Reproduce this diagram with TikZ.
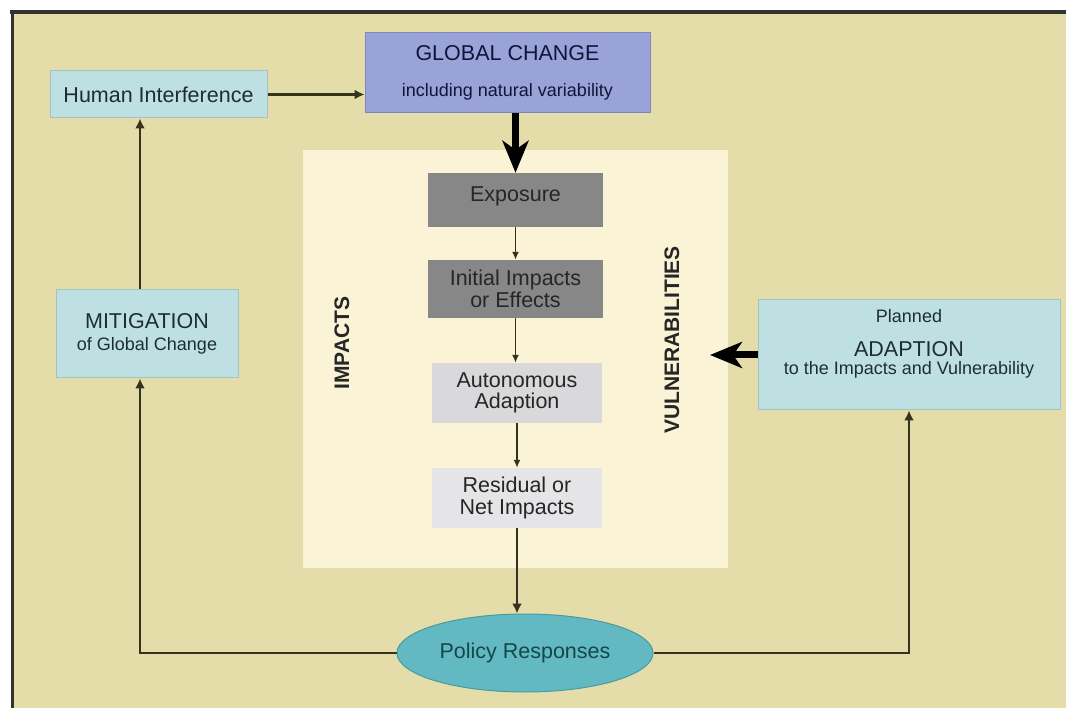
\documentclass[tikz,border=0pt]{standalone}
\usepackage{fontspec}
\setmainfont{Liberation Sans}
\usetikzlibrary{arrows.meta,shapes.geometric}
\definecolor{bgk}{HTML}{E4DDAA}
\definecolor{panel}{HTML}{FAF3D6}
\definecolor{cyanbox}{HTML}{BEE0E2}
\definecolor{cyanedge}{HTML}{A3C4C6}
\definecolor{gcbox}{HTML}{9AA3D8}
\definecolor{gcedge}{HTML}{7D86BC}
\definecolor{darkgray}{HTML}{878787}
\definecolor{lightgray1}{HTML}{D9D9DB}
\definecolor{lightgray2}{HTML}{E5E5E8}
\definecolor{pol}{HTML}{62B9C2}
\definecolor{poledge}{HTML}{4A9AA3}
\definecolor{linec}{HTML}{35331F}
\definecolor{txt}{HTML}{1E2D35}
\newcommand{\bigtxt}{\fontsize{21.5}{21.5}\selectfont}
\newcommand{\smalltxt}{\fontsize{18}{18}\selectfont}
\tikzset{
  x=1pt, y=-1pt,
  box/.style={rectangle, inner sep=0pt, align=center, text=txt, font=\bigtxt},
  cyanb/.style={box, fill=cyanbox, draw=cyanedge, line width=1pt},
  grayb/.style={box, fill=darkgray, text=black!85},
  lgrayb/.style={box, text=black!85},
  conn/.style={draw=linec, line width=2.6pt, -{Latex[length=10pt,width=10pt]}},
  innerarr/.style={draw=linec, line width=1.6pt, -{Latex[length=8pt,width=7pt]}},
  thickarr/.style={draw=black, line width=7pt, -{Stealth[length=32pt,width=26pt,inset=9pt]}},
  vlabel/.style={rotate=90, font=\bfseries\fontsize{21}{21}\selectfont, text=black!85, inner sep=0pt}
}
\begin{document}
\begin{tikzpicture}
\useasboundingbox (0,0) rectangle (1066,708);
\fill[white] (0,0) rectangle (1066,708);
\fill[bgk] (12,12) rectangle (1066,708);
\draw[draw=black!80, line width=4pt] (10,12) -- (1066,12);
\draw[draw=black!80, line width=3pt] (12,10) -- (12,708);
\fill[panel] (303,150) rectangle (728,568);

\node[cyanb, minimum width=217pt, minimum height=47pt] (hi) at (158.5,94.5) {Human Interference};
\node[box, fill=gcbox, draw=gcedge, line width=1pt, text=txt!80!blue!60!black, minimum width=285pt, minimum height=80pt] (gc) at (507.5,73)
  {GLOBAL CHANGE\\[15pt]{\smalltxt including natural variability}};
\node[grayb, minimum width=175pt, minimum height=54pt] (exp) at (515.5,200) {Exposure\\[-10pt]{}};
\node[grayb, minimum width=175pt, minimum height=58pt] (ini) at (515.5,289) {Initial Impacts\\or Effects};
\node[lgrayb, fill=lightgray1, minimum width=170pt, minimum height=60pt] (aut) at (517,393) {Autonomous\\Adaption};
\node[lgrayb, fill=lightgray2, minimum width=170pt, minimum height=60pt] (res) at (517,498) {Residual or\\Net Impacts};
\node[cyanb, minimum width=182pt, minimum height=88pt] (mit) at (147,334) {MITIGATION\\{\smalltxt of Global Change}};
\node[cyanb, minimum width=302pt, minimum height=110pt] (ada) at (909,355)
  {{\smalltxt Planned}\\[12pt]ADAPTION\\[-3pt]{\smalltxt to the Impacts and Vulnerability}\\[4pt]{}};
\node[ellipse, fill=pol, draw=poledge, line width=1pt, inner sep=0pt, minimum width=256pt, minimum height=78pt, text=txt!70!teal, font=\bigtxt] (pol) at (525,653) {Policy Responses};
\node[vlabel] (imp) at (342,343) {IMPACTS};
\node[vlabel] (vul) at (672,340) {VULNERABILITIES};
\coordinate (vtip) at (710,355);

\path[conn] (hi.east) -- (hi.east -| gc.west);
\path[thickarr] (exp.north |- gc.south) -- (exp.north);
\path[innerarr] (exp.south) -- (ini.north);
\path[innerarr] (ini.south) -- (ini.south |- aut.north);
\path[innerarr] (aut.south) -- (res.north);
\path[conn] (res.south) -- (res.south |- pol.north);
\path[conn] (pol.west) -| ([xshift=-7pt]mit.south);
\path[conn] ([xshift=-7pt]mit.north) -- ([xshift=-7pt]mit.north |- hi.south);
\path[conn] (pol.east) -| (ada.south);
\path[thickarr] (ada.west) -- (vtip);
\end{tikzpicture}
\end{document}
